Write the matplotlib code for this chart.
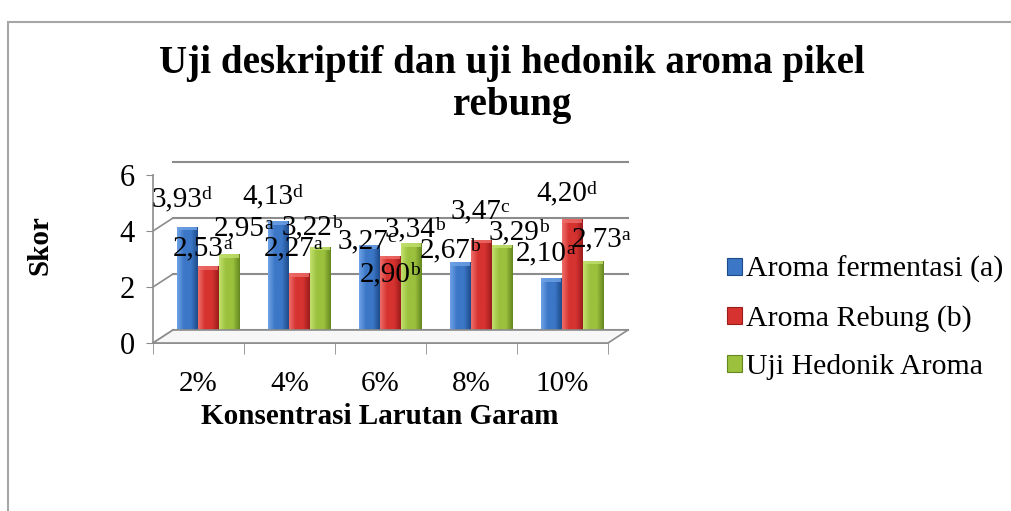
import numpy as np
import matplotlib.pyplot as plt
from matplotlib.transforms import ScaledTranslation
from matplotlib.patches import Rectangle, Polygon, Patch
from matplotlib.colors import LinearSegmentedColormap

plt.rcParams['font.family'] = ['Liberation Serif', 'DejaVu Serif']

# data
categories = ['2%', '4%', '6%', '8%', '10%']
series_names = ['Aroma fermentasi (a)', 'Aroma Rebung (b)', 'Uji Hedonik Aroma']
fermentasi = [3.93, 4.13, 3.27, 2.67, 2.10]
rebung = [2.53, 2.27, 2.90, 3.47, 4.20]
hedonik = [2.95, 3.22, 3.34, 3.29, 2.73]
fermentasi_sig = ['d', 'd', 'c', 'b', 'a']
rebung_sig = ['a', 'a', 'b', 'c', 'd']
hedonik_sig = ['a', 'b', 'b', 'b', 'a']
yticks = [0, 2, 4, 6]

series = [fermentasi, rebung, hedonik]
sigs = [fermentasi_sig, rebung_sig, hedonik_sig]
colors = ['#3b77c6', '#d63330', '#9bc13d']
dark = ['#1e4a8a', '#9a1c1b', '#65871f']
light = ['#6fa2e6', '#ee6e6a', '#c2e06e']

# label offsets in pixels from bar top (Excel put them all over the place)
label_off = [
    [(-11, -28), (-11, -25), (-7, -4), (-15, -12), (-10, -25)],
    [(-10, -18), (-10, -25), (-5, 19), (-6, -28), (-11, -26)],
    [(10, -26), (-13, -19), (-1, -14), (12, -13), (4, -21)],
]

W, H, DPI = 1011, 511, 100
fig = plt.figure(figsize=(W / DPI, H / DPI), dpi=DPI)
fig.patches.append(Rectangle((8 / W, -0.05), 1.2, (H - 22) / H + 0.05,
                             transform=fig.transFigure, fill=False,
                             edgecolor='#a6a6a6', lw=1.5))

# front axis: x 153..608, y 343 (0) .. 175 (6)
ax = fig.add_axes([153 / W, (H - 343) / H, 455 / W, 168 / H])
ax.set_xlim(-0.5, 4.5)
ax.set_ylim(0, 6)

back = ax.transData + ScaledTranslation(20 / DPI, 13 / DPI, fig.dpi_scale_trans)
mid = ax.transData + ScaledTranslation(10 / DPI, 6 / DPI, fig.dpi_scale_trans)

grid_c = '#8c8c8c'
# floor
floor_pts = np.array([ax.transData.transform((-0.5, 0)), ax.transData.transform((4.5, 0)),
                      back.transform((4.5, 0)), back.transform((-0.5, 0))])
fig.patches.append(Polygon(floor_pts, closed=True, transform=None,
                           facecolor='#f7f7f7', edgecolor=grid_c, lw=1.2, zorder=1))
# back wall gridlines + left diagonals
for y in yticks:
    ax.plot([-0.5, 4.5], [y, y], color=grid_c, lw=1.5, transform=back, clip_on=False, zorder=1)
    p0 = ax.transData.transform((-0.5, y))
    p1 = back.transform((-0.5, y))
    ax.add_line(plt.Line2D([p0[0], p1[0]], [p0[1], p1[1]], color=grid_c, lw=1.2,
                           transform=None, zorder=1))

x = np.arange(len(categories))
bw = 0.23
grad = np.linspace(0, 1, 64).reshape(1, -1)
for s, vals in enumerate(series):
    cmap = LinearSegmentedColormap.from_list('g%d' % s, [light[s], colors[s], colors[s], dark[s]])
    for i, v in enumerate(vals):
        xc = x[i] + (s - 1) * bw
        bar = Rectangle((xc - bw / 2, 0), bw * 0.96, v, transform=mid,
                        facecolor=colors[s], edgecolor='none', zorder=3)
        ax.add_patch(bar)
        im = ax.imshow(grad, cmap=cmap, extent=[xc - bw / 2, xc - bw / 2 + bw * 0.96, 0, v],
                       aspect='auto', zorder=3.1, interpolation='bilinear')
        im.set_transform(mid)
        im.set_clip_path(bar)
        # lighter top cap
        ax.add_patch(Rectangle((xc - bw / 2, v - 0.12), bw * 0.96, 0.12, transform=mid,
                               facecolor=light[s], edgecolor='none', alpha=0.8, zorder=3.2))

for s, vals in enumerate(series):
    for i, v in enumerate(vals):
        xc = x[i] + (s - 1) * bw
        dx, dy = label_off[s][i]
        t = ax.annotate(('%.2f' % v).replace('.', ','), xy=(xc, v), xycoords=mid,
                        xytext=(dx * 0.72, -dy * 0.72), textcoords='offset points',
                        ha='center', va='center', fontsize=21, zorder=5,
                        annotation_clip=False)
        ax.annotate(sigs[s][i], xy=(0.98, 0.66), xycoords=t, ha='left', va='center',
                    fontsize=14, zorder=5, annotation_clip=False)

ax.set_xlim(-0.5, 4.5)
ax.set_ylim(0, 6)
for sp in ['top', 'right']:
    ax.spines[sp].set_visible(False)
for sp in ['left', 'bottom']:
    ax.spines[sp].set_color(grid_c)
    ax.spines[sp].set_linewidth(1.2)
ax.set_yticks(yticks)
ax.set_yticklabels([str(v) for v in yticks], fontsize=22)
ax.tick_params(axis='y', length=5, color=grid_c, pad=8)
ax.set_xticks(x)
ax.set_xticklabels(categories, fontsize=21)
ax.tick_params(axis='x', length=0, pad=20)
ax.set_xticks(np.arange(-0.5, 5, 1), minor=True)
ax.tick_params(axis='x', which='minor', length=8, color=grid_c)
ax.patch.set_visible(False)

fig.text(512 / W, 1 - 64 / H, 'Uji deskriptif dan uji hedonik aroma pikel', ha='center',
         va='center', fontsize=28, fontweight='bold')
fig.text(512 / W, 1 - 106 / H, 'rebung', ha='center', va='center', fontsize=28, fontweight='bold')
fig.text(40 / W, 1 - 245 / H, 'Skor', rotation=90, ha='center', va='center',
         fontsize=21, fontweight='bold')
fig.text(380 / W, 1 - 416 / H, 'Konsentrasi Larutan Garam', ha='center', va='center',
         fontsize=21, fontweight='bold')

handles = [Patch(facecolor=colors[s], edgecolor=dark[s], lw=0.8) for s in range(3)]
fig.legend(handles, series_names, loc='upper left', bbox_to_anchor=(727 / W, 1 - 256 / H),
           frameon=False, fontsize=21.5, handlelength=0.5, handleheight=0.5,
           handletextpad=0.15, labelspacing=0.73, borderpad=0, borderaxespad=0)

fig.savefig('out.png', dpi=DPI)
